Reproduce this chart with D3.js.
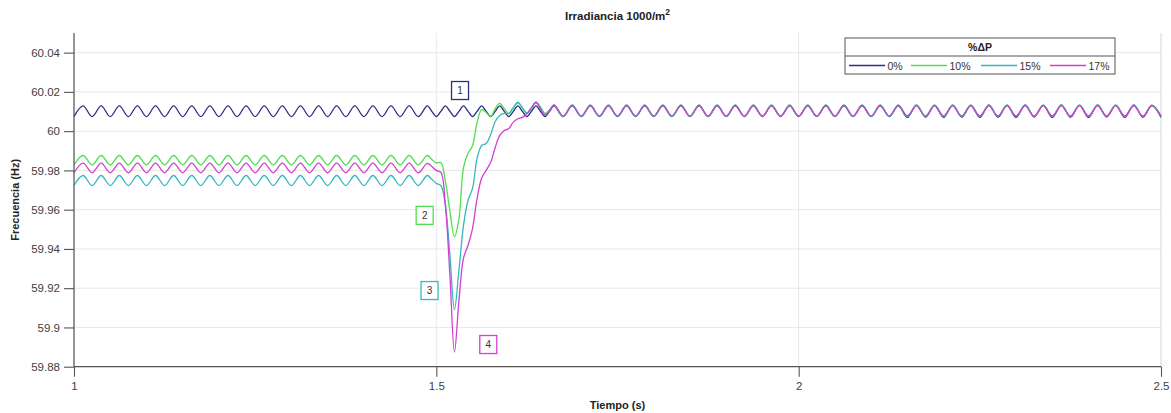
<!DOCTYPE html>
<html><head><meta charset="utf-8">
<script src="https://cdn.jsdelivr.net/npm/d3@7"></script>
<style>
html,body{margin:0;padding:0;background:#fff;}
svg{display:block;font-family:"Liberation Sans",Arial,sans-serif;}
</style></head>
<body>
<svg id="chart" width="1171" height="413"></svg>
<script>
// ---------- DATA ----------
const seriesNames = ["0%", "10%", "15%", "17%"];
const seriesColors = ["#2c2f86", "#52dd52", "#36b9be", "#d23fd2"];
const xTicks = [1, 1.5, 2, 2.5];
const xTickLabels = ["1", "1.5", "2", "2.5"];
const yTicks = [59.88, 59.9, 59.92, 59.94, 59.96, 59.98, 60, 60.02, 60.04];
const yTickLabels = ["59.88", "59.9", "59.92", "59.94", "59.96", "59.98", "60", "60.02", "60.04"];

// sample grids (half-period before/after the event, quarter-period during it)
const timeA = d3.range(0, 39).map(k => 1 + k * 0.0125);          // 1.000 .. 1.475
const timeB = d3.range(0, 29).map(i => 1.4875 + i * 0.00625);    // 1.4875 .. 1.6625
const timeC = d3.range(54, 121).map(k => 1 + k * 0.0125);        // 1.675 .. 2.5

const blueA = [60.0074,60.0129,60.0074,60.0129,60.0074,60.0129,60.0074,60.0129,60.0074,60.0129,
60.0074,60.0129,60.0074,60.0129,60.0074,60.0129,60.0074,60.0129,60.0074,60.0129,
60.0074,60.0129,60.0074,60.0129,60.0074,60.0129,60.0074,60.0129,60.0074,60.0129,
60.0074,60.0129,60.0074,60.0129,60.0074,60.0129,60.0074,60.0129,60.0074];
const blueB = [60.0129,60.0101,60.0074,60.0101,60.0129,60.0101,60.0074,60.0101,60.0129,60.0101,
60.0074,60.0101,60.0129,60.0101,60.0074,60.0101,60.0129,60.0101,60.0074,60.0101,
60.0129,60.0101,60.0074,60.0101,60.0129,60.0101,60.0074,60.0101,60.0129];
const blueC = [60.0074,60.0129,60.0074,60.0129,60.0074,60.0129,60.0074,60.0129,60.0074,60.0129,
60.0074,60.0129,60.0074,60.0129,60.0074,60.0129,60.0074,60.0129,60.0074,60.0129,
60.0074,60.0129,60.0074,60.0129,60.0074,60.0129,60.0074,60.0129,60.0074,60.0129,
60.0074,60.0129,60.0074,60.0129,60.0074,60.0129,60.0074,60.0129,60.0070,60.0133,
60.0072,60.0130,60.0070,60.0133,60.0072,60.0130,60.0070,60.0134,60.0071,60.0131,
60.0070,60.0134,60.0072,60.0131,60.0070,60.0134,60.0071,60.0131,60.0070,60.0134,
60.0072,60.0131,60.0070,60.0134,60.0071,60.0130,60.0070];

const greenA = [59.9828,59.9876,59.9828,59.9876,59.9828,59.9876,59.9828,59.9876,59.9828,59.9876,
59.9828,59.9876,59.9828,59.9876,59.9828,59.9876,59.9828,59.9876,59.9828,59.9876,
59.9828,59.9876,59.9828,59.9876,59.9828,59.9876,59.9828,59.9876,59.9828,59.9876,
59.9828,59.9876,59.9828,59.9876,59.9828,59.9876,59.9828,59.9876,59.9828];
const greenB = [59.9876,59.9856,59.9838,59.9840,59.9744,59.9592,59.9462,59.9556,59.9815,59.9887,
59.9927,60.0044,60.0110,60.0095,60.0075,60.0115,60.0141,60.0115,60.0090,60.0120,
60.0146,60.0120,60.0093,60.0118,60.0148,60.0122,60.0090,60.0108,60.0133];
const greenC = [60.0076,60.0132,60.0076,60.0132,60.0076,60.0132,60.0076,60.0132,60.0076,60.0132,
60.0076,60.0132,60.0076,60.0132,60.0076,60.0132,60.0076,60.0132,60.0076,60.0132,
60.0076,60.0132,60.0076,60.0132,60.0076,60.0132,60.0076,60.0132,60.0076,60.0132,
60.0076,60.0132,60.0076,60.0132,60.0076,60.0132,60.0076,60.0132,60.0076,60.0132,
60.0076,60.0132,60.0076,60.0132,60.0076,60.0132,60.0076,60.0132,60.0076,60.0132,
60.0076,60.0132,60.0076,60.0132,60.0076,60.0132,60.0076,60.0132,60.0076,60.0132,
60.0076,60.0132,60.0076,60.0132,60.0076,60.0132,60.0076];

const cyanA = [59.9723,59.9774,59.9723,59.9774,59.9723,59.9774,59.9723,59.9774,59.9723,59.9774,
59.9723,59.9774,59.9723,59.9774,59.9723,59.9774,59.9723,59.9774,59.9723,59.9774,
59.9723,59.9774,59.9723,59.9774,59.9723,59.9774,59.9723,59.9774,59.9723,59.9774,
59.9723,59.9774,59.9723,59.9774,59.9723,59.9774,59.9723,59.9774,59.9723];
const cyanB = [59.9774,59.9755,59.9734,59.9723,59.9622,59.9368,59.9090,59.9292,59.9520,59.9648,
59.9709,59.9861,59.9927,59.9937,59.9983,60.0049,60.0080,60.0090,60.0090,60.0120,
60.0146,60.0118,60.0090,60.0115,60.0148,60.0120,60.0085,60.0106,60.0133];
const cyanC = greenC.slice();

const magentaA = [59.9788,59.9837,59.9788,59.9837,59.9788,59.9837,59.9788,59.9837,59.9788,59.9837,
59.9788,59.9837,59.9788,59.9837,59.9788,59.9837,59.9788,59.9837,59.9788,59.9837,
59.9788,59.9837,59.9788,59.9837,59.9788,59.9837,59.9788,59.9837,59.9788,59.9837,
59.9788,59.9837,59.9788,59.9837,59.9788,59.9837,59.9788,59.9837,59.9788];
const magentaB = [59.9836,59.9820,59.9800,59.9790,59.9622,59.9266,59.8875,59.9139,59.9353,59.9419,
59.9505,59.9658,59.9760,59.9800,59.9841,59.9917,59.9978,60.0003,60.0014,60.0046,
60.0063,60.0070,60.0090,60.0120,60.0146,60.0112,60.0080,60.0106,60.0134];
const magentaC = [60.0077,60.0131,60.0077,60.0131,60.0077,60.0131,60.0077,60.0131,60.0077,60.0131,
60.0077,60.0131,60.0077,60.0131,60.0077,60.0131,60.0077,60.0131,60.0077,60.0131,
60.0077,60.0131,60.0077,60.0131,60.0077,60.0131,60.0077,60.0131,60.0077,60.0131,
60.0077,60.0131,60.0077,60.0131,60.0077,60.0131,60.0077,60.0131,60.0077,60.0129,
60.0076,60.0130,60.0077,60.0129,60.0076,60.0130,60.0077,60.0129,60.0076,60.0130,
60.0077,60.0129,60.0076,60.0130,60.0077,60.0129,60.0076,60.0130,60.0077,60.0129,
60.0076,60.0130,60.0077,60.0129,60.0076,60.0130,60.0077];

// annotation boxes: label, time, frequency
const annoLabels = ["1", "2", "3", "4"];
const annoTime = [1.5327, 1.4839, 1.4906, 1.5717];
const annoFreq = [60.0207, 59.9571, 59.9188, 59.8913];

// ---------- CHART ----------
const time = timeA.concat(timeB, timeC);
const seriesValues = [
  blueA.concat(blueB, blueC),
  greenA.concat(greenB, greenC),
  cyanA.concat(cyanB, cyanC),
  magentaA.concat(magentaB, magentaC)
];

const svg = d3.select("#chart");
const L = 74, R = 1161, T = 33, B = 366.7;
const x = d3.scaleLinear().domain([1, 2.5]).range([L, R]);
const y = d3.scaleLinear().domain([59.88, 60.05]).range([B, T]);

// grid
svg.append("g").selectAll("line").data(yTicks).join("line")
  .attr("x1", L).attr("x2", R).attr("y1", d => y(d)).attr("y2", d => y(d))
  .attr("stroke", "#e8e8e8").attr("stroke-width", 1);
svg.append("g").selectAll("line").data(xTicks).join("line")
  .attr("y1", T).attr("y2", B).attr("x1", d => x(d)).attr("x2", d => x(d))
  .attr("stroke", "#e8e8e8").attr("stroke-width", 1);
// right border (light)
svg.append("line").attr("x1", R).attr("x2", R).attr("y1", T).attr("y2", B)
  .attr("stroke", "#e0e0e0");

// lines
const line = d3.line().x((d, i) => x(time[i])).y(d => y(d)).curve(d3.curveCatmullRom.alpha(0.5));
svg.append("g").selectAll("path").data(seriesValues).join("path")
  .attr("d", d => line(d))
  .attr("fill", "none")
  .attr("stroke", (d, i) => seriesColors[i])
  .attr("stroke-width", 1.3)
  .attr("stroke-linejoin", "round");

// axes
const yAxis = d3.axisLeft(y).tickValues(yTicks).tickFormat((d, i) => yTickLabels[i]).tickSize(10).tickPadding(4);
const gy = svg.append("g").attr("transform", `translate(${L},0)`).call(yAxis);
const xAxis = d3.axisBottom(x).tickValues(xTicks).tickFormat((d, i) => xTickLabels[i]).tickSize(10).tickPadding(5);
const gx = svg.append("g").attr("transform", `translate(0,${B})`).call(xAxis);
[gx, gy].forEach(g => {
  g.select(".domain").attr("stroke", "#555").attr("stroke-width", 1.2);
  g.selectAll(".tick line").attr("stroke", "#555").attr("stroke-width", 1.1);
  g.selectAll(".tick text").attr("fill", "#404040").style("font-size", "11.5px")
    .style("font-family", "'Liberation Sans', Arial, sans-serif");
});
gy.select(".domain").attr("d", `M0,${T}V${B}`);
gx.select(".domain").attr("d", `M${L},0H${R}`);

// annotations
const ag = svg.append("g");
annoLabels.forEach((lab, i) => {
  const cx = x(annoTime[i]), cy = y(annoFreq[i]);
  ag.append("rect").attr("x", cx - 8.5).attr("y", cy - 9).attr("width", 17).attr("height", 18)
    .attr("fill", "#fff").attr("stroke", seriesColors[i]).attr("stroke-width", 1.3);
  ag.append("text").attr("x", cx).attr("y", cy + 3.5).attr("text-anchor", "middle")
    .style("font-size", "10px").attr("fill", "#333").text(lab);
});

// title and axis labels
const title = svg.append("text").attr("x", (L + R) / 2).attr("y", 20).attr("text-anchor", "middle")
  .style("font-size", "11.5px").style("font-weight", "bold").attr("fill", "#222");
title.append("tspan").text("Irradiancia 1000/m");
title.append("tspan").attr("dy", -5).style("font-size", "8.5px").text("2");

svg.append("text").attr("x", (L + R) / 2).attr("y", 409).attr("text-anchor", "middle")
  .style("font-size", "11px").style("font-weight", "bold").attr("fill", "#222").text("Tiempo (s)");
svg.append("text").attr("transform", `translate(19,${(T + B) / 2}) rotate(-90)`).attr("text-anchor", "middle")
  .style("font-size", "11px").style("font-weight", "bold").attr("fill", "#222").text("Frecuencia (Hz)");

// legend
const lg = svg.append("g");
lg.append("rect").attr("x", 845).attr("y", 38).attr("width", 270).attr("height", 36)
  .attr("fill", "#fff").attr("stroke", "#555").attr("stroke-width", 1);
lg.append("line").attr("x1", 845).attr("x2", 1115).attr("y1", 56).attr("y2", 56)
  .attr("stroke", "#555").attr("stroke-width", 1);
lg.append("text").attr("x", 980).attr("y", 51).attr("text-anchor", "middle")
  .style("font-size", "10.5px").style("font-weight", "bold").attr("fill", "#222").text("%ΔP");
const legX = [849, 911, 981, 1050];
seriesNames.forEach((n, i) => {
  lg.append("line").attr("x1", legX[i]).attr("x2", legX[i] + 36).attr("y1", 65.5).attr("y2", 65.5)
    .attr("stroke", seriesColors[i]).attr("stroke-width", 1.4);
  lg.append("text").attr("x", legX[i] + 38.5).attr("y", 69.5)
    .style("font-size", "10.5px").attr("fill", "#333").text(n);
});
</script>
</body></html>
